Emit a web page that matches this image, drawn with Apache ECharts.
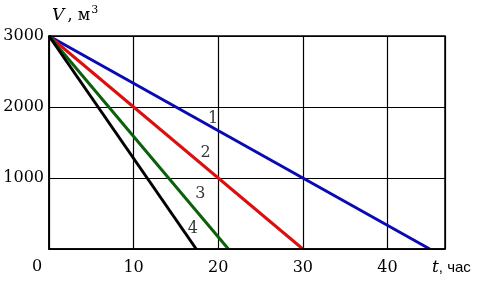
<!DOCTYPE html>
<html><head><meta charset="utf-8">
<script src="https://cdn.jsdelivr.net/npm/echarts@6/dist/echarts.min.js"></script>
<style>html,body{margin:0;padding:0;background:#fff}#c{width:483px;height:282px}</style>
</head><body><div id="c"></div>
<script>
const xTicks = [0, 10, 20, 30, 40];
const yTicks = [1000, 2000, 3000];
const line1 = [[0, 3000], [45, 0]];
const line2 = [[0, 3000], [30, 0]];
const line3 = [[0, 3000], [21.2, 0]];
const line4 = [[0, 3000], [17.4, 0]];
const lineNames = ['1', '2', '3', '4'];
const labelPos = [[19.4, 1840], [18.5, 1350], [17.9, 770], [17.0, 280]];
const colors = ['#0a0ab4', '#dc0f0f', '#0b600b', '#000000'];

const chart = echarts.init(document.getElementById('c'), null, {renderer: 'canvas'});
const font = 'DejaVu Serif';
const mk = (d, i) => ({type: 'line', data: d, symbol: 'none', lineStyle: {color: colors[i], width: 3}, z: 3, animation: false});
chart.setOption({
  animation: false,
  grid: {left: 49, right: 38, top: 36, bottom: 33},
  xAxis: {type: 'value', min: 0, max: 46.8, interval: 10,
    axisLine: {show: true, onZero: false, lineStyle: {color: '#000', width: 1.5}},
    axisTick: {show: false},
    splitLine: {show: true, lineStyle: {color: '#000', width: 1.2}},
    axisLabel: {color: '#000', fontFamily: font, fontSize: 16, margin: 11,
      formatter: v => (v === 0 ? '' : (xTicks.includes(v) ? String(v) : ''))}
  },
  yAxis: {type: 'value', min: 0, max: 3000, interval: 1000,
    axisLine: {show: true, lineStyle: {color: '#000', width: 1.5}},
    axisTick: {show: false},
    splitLine: {show: true, lineStyle: {color: '#000', width: 1.2}},
    axisLabel: {color: '#000', fontFamily: font, fontSize: 16, margin: 5,
      formatter: v => (yTicks.includes(v) ? String(v) : '')}
  },
  series: [
    mk(line1, 0), mk(line2, 1), mk(line3, 2), mk(line4, 3),
    {type: 'scatter', symbolSize: 0, z: 5,
      data: labelPos.map((p, i) => ({value: p, name: lineNames[i]})),
      label: {show: true, position: 'inside', formatter: p => p.name, color: '#000', fontFamily: font, fontSize: 16}}
  ],
  graphic: [
    {type: 'rect', shape: {x: 49, y: 36, width: 396, height: 213}, style: {fill: 'none', stroke: '#000', lineWidth: 1.5}, z: 10, silent: true},
    {type: 'text', left: 32, top: 259, style: {text: '0', font: '16px "DejaVu Serif"', fill: '#000'}},
    {type: 'text', left: 52, top: 5, style: {
      text: '{i|V} {n|, м}{s|3}',
      rich: {
        i: {fontFamily: font, fontStyle: 'italic', fontSize: 17, fill: '#000'},
        n: {fontFamily: font, fontSize: 16, fill: '#000'},
        s: {fontFamily: font, fontSize: 11, fill: '#000', verticalAlign: 'top', padding: [0, 0, 10, 1]}
      }}},
    {type: 'text', left: 432, top: 259, style: {
      text: '{i|t}{n|, час}',
      rich: {
        i: {fontFamily: font, fontStyle: 'italic', fontSize: 17, fill: '#000'},
        n: {fontFamily: 'Liberation Sans', fontSize: 15, fill: '#000'}
      }}}
  ]
});
</script></body></html>
